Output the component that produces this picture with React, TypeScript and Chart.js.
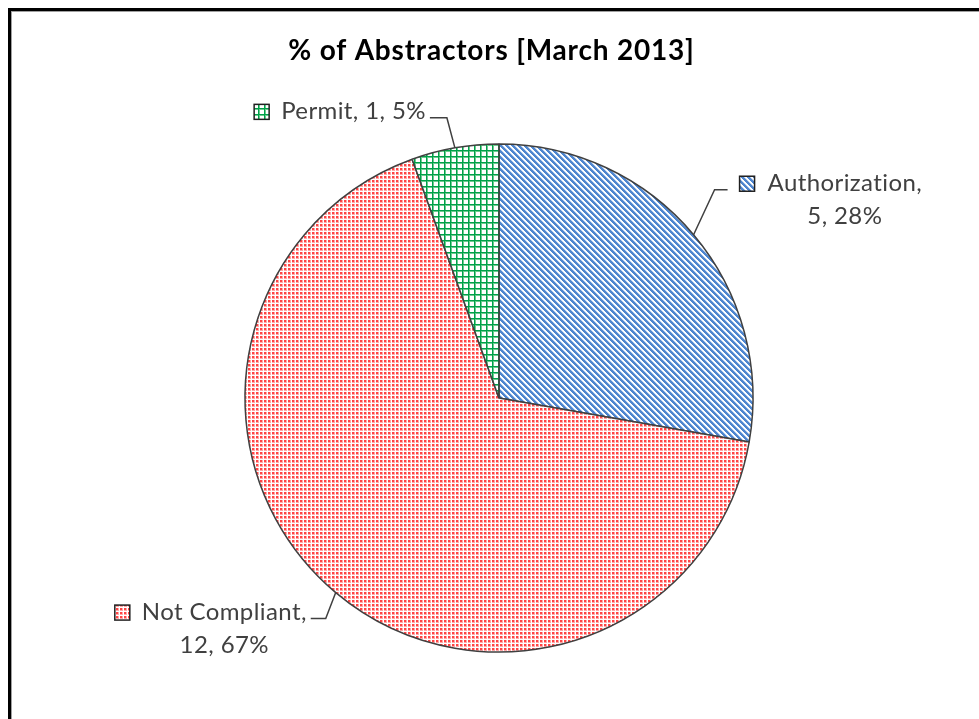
import React, { useEffect, useRef } from "react";
import { Chart, registerables } from "chart.js";

Chart.register(...registerables);

// ---- data ----
const chartTitle = "% of Abstractors [March 2013]";
const categories = ["Authorization", "Not Compliant", "Permit"];
const counts = [5, 12, 1];
const percentLabels = ["28%", "67%", "5%"];
const wrapLabel = [true, true, false];

// ---- layout / style ----
const W = 979;
const H = 719;
const CX = 499;
const CY = 398;
const R = 254;
const TITLE_X = 491.5;
const TITLE_Y = 60;
const TITLE_FONT = "bold 28px Lato";
const TITLE_SPACING = "0.8px";
const LABEL_FONT = "24px Lato";
const LABEL_SPACING = "0.4px";
const LINE_H = 32.5;
const KEY = 15;
const INK = "#404040";

const labelLayout = [
  { side: 1, elbow: [21, -45], arm: 13 },
  { side: -1, elbow: [-10, 26], arm: 15 },
  { side: -1, elbow: [-8, -30], arm: 17 },
];

type PatternKind = "diag" | "dots" | "grid";
const patternKinds: PatternKind[] = ["diag", "dots", "grid"];

function makePattern(kind: PatternKind): CanvasPattern | string {
  const c = document.createElement("canvas");
  const sw = kind === "diag" ? 6 : kind === "dots" ? 4 : 6;
  const sh = kind === "diag" ? 6 : kind === "dots" ? 4 : 6;
  c.width = sw;
  c.height = sh;
  const g = c.getContext("2d");
  if (!g) return "#888";
  g.fillStyle = "#ffffff";
  g.fillRect(0, 0, sw, sh);
  for (let y = 0; y < sh; y++) {
    for (let x = 0; x < sw; x++) {
      let col: string | null = null;
      if (kind === "diag") {
        const d = (((x - y) % 6) + 6) % 6;
        if (d < 3) col = "#4F86CF";
        else if (d === 3) col = "#B8CFEE";
      } else if (kind === "dots") {
        if (x < 2 && y < 2) col = "#FF4444";
        else if (x < 3 && y < 3) col = "#FFA8A8";
      } else {
        if (x === 0 || y === 0) col = "#00A04A";
        else if (x === 1 || y === 1) col = "#6CCB8E";
      }
      if (col) {
        g.fillStyle = col;
        g.fillRect(x, y, 1, 1);
      }
    }
  }
  const p = g.createPattern(c, "repeat");
  return p || "#888";
}

export default function App() {
  const ref = useRef<HTMLCanvasElement | null>(null);

  useEffect(() => {
    const canvas = ref.current;
    if (!canvas) return;
    const patterns = patternKinds.map(makePattern);

    const labelPlugin = {
      id: "sliceLabels",
      afterDatasetsDraw(chart: any) {
        const ctx: any = chart.ctx;
        ctx.save();
        ctx.fillStyle = "#000000";
        ctx.font = TITLE_FONT;
        ctx.letterSpacing = TITLE_SPACING;
        ctx.textAlign = "center";
        ctx.textBaseline = "alphabetic";
        ctx.fillText(chartTitle, TITLE_X, TITLE_Y);

        const meta = chart.getDatasetMeta(0);
        meta.data.forEach((arc: any, i: number) => {
          const p = arc.getProps(["x", "y", "startAngle", "endAngle", "outerRadius"], true);
          const mid = (p.startAngle + p.endAngle) / 2;
          const ex = p.x + Math.cos(mid) * p.outerRadius;
          const ey = p.y + Math.sin(mid) * p.outerRadius;
          const L = labelLayout[i];
          const bx = ex + L.elbow[0];
          const by = ey + L.elbow[1];
          const tx = bx + L.side * L.arm;

          ctx.strokeStyle = INK;
          ctx.lineWidth = 1.5;
          ctx.beginPath();
          ctx.moveTo(ex, ey);
          ctx.lineTo(bx, by);
          ctx.lineTo(tx, by);
          ctx.stroke();

          const line2 = `${counts[i]}, ${percentLabels[i]}`;
          const lines = wrapLabel[i]
            ? [`${categories[i]},`, line2]
            : [`${categories[i]}, ${line2}`];
          ctx.font = LABEL_FONT;
          ctx.letterSpacing = LABEL_SPACING;
          const w1 = ctx.measureText(lines[0]).width;
          const baseline = by + 1.5;
          let keyLeft: number;
          let textLeft: number;
          if (L.side === 1) {
            keyLeft = tx + 12;
            textLeft = keyLeft + KEY + 13;
          } else {
            textLeft = tx - 4 - w1;
            keyLeft = textLeft - 12 - KEY;
          }
          ctx.fillStyle = patterns[i];
          ctx.fillRect(keyLeft, baseline - KEY, KEY, KEY);
          ctx.strokeStyle = "#202020";
          ctx.lineWidth = 1.5;
          ctx.strokeRect(keyLeft, baseline - KEY, KEY, KEY);

          ctx.fillStyle = INK;
          ctx.textAlign = "left";
          ctx.fillText(lines[0], textLeft, baseline);
          if (lines[1]) {
            ctx.textAlign = "center";
            ctx.fillText(lines[1], textLeft + w1 / 2, baseline + LINE_H);
          }
        });
        ctx.restore();
      },
    };

    const chart = new Chart(canvas, {
      type: "pie",
      data: {
        labels: categories,
        datasets: [
          {
            data: counts,
            backgroundColor: patterns as any,
            borderColor: INK,
            borderWidth: 1.5,
            radius: R,
          } as any,
        ],
      },
      options: {
        responsive: false,
        animation: false,
        devicePixelRatio: 1,
        layout: {
          padding: {
            left: CX - 300,
            right: W - CX - 300,
            top: CY - 300,
            bottom: H - CY - 300,
          },
        },
        plugins: {
          legend: { display: false },
          title: { display: false },
          tooltip: { enabled: false },
        },
      },
      plugins: [labelPlugin],
    });
    return () => chart.destroy();
  }, []);

  return (
    <div style={{ position: "fixed", left: 0, top: 0, width: W, height: H, overflow: "hidden", background: "#fff" }}>
      <canvas ref={ref} width={W} height={H} style={{ position: "absolute", left: 0, top: 0, width: W, height: H }} />
      <div
        style={{
          position: "absolute",
          left: 8,
          top: 8,
          width: 1200,
          height: 1200,
          border: "3px solid #000",
          boxShadow: "inset 1px 1px 0 #a0a0a0",
          pointerEvents: "none",
        }}
      />
    </div>
  );
}
